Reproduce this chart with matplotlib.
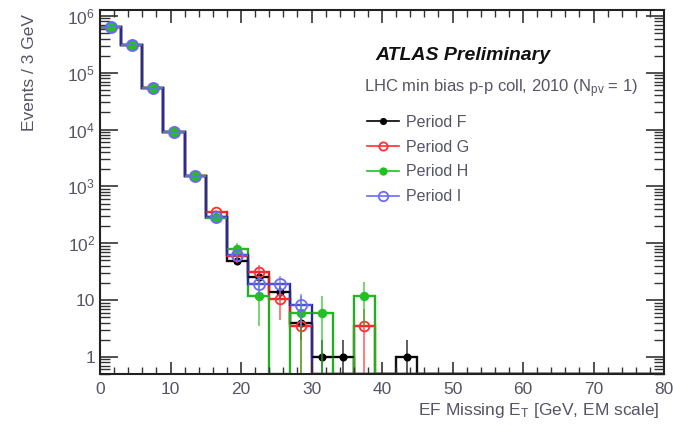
import numpy as np
import matplotlib
matplotlib.use("Agg")
import matplotlib.pyplot as plt
from matplotlib.lines import Line2D
from matplotlib.ticker import FixedLocator, LogLocator, FuncFormatter, NullFormatter

plt.rcParams["font.family"] = ["Liberation Sans", "DejaVu Sans"]
plt.rcParams["mathtext.fontset"] = "custom"
plt.rcParams["mathtext.rm"] = "Liberation Sans"
plt.rcParams["mathtext.it"] = "Liberation Sans:italic"
plt.rcParams["mathtext.bf"] = "Liberation Sans:bold"

# 3 GeV bins of EF missing E_T
bin_edges = np.arange(0, 84, 3)

# Events per bin for each run period (0 = empty bin)
period_f = [6.4e5, 3.1e5, 5.3e4, 8.9e3, 1.5e3, 290, 48, 25, 14, 4, 1, 1, 0, 0, 1,
            0, 0, 0, 0, 0, 0, 0, 0, 0, 0, 0, 0]
period_g = [6.4e5, 3.1e5, 5.3e4, 8.9e3, 1.5e3, 350, 60, 31.5, 10.5, 3.5, 0, 0, 3.5, 0, 0,
            0, 0, 0, 0, 0, 0, 0, 0, 0, 0, 0, 0]
period_h = [6.4e5, 3.1e5, 5.3e4, 8.9e3, 1.5e3, 280, 78, 12, 0, 6, 6, 0, 12, 0, 0,
            0, 0, 0, 0, 0, 0, 0, 0, 0, 0, 0, 0]
period_i = [6.4e5, 3.1e5, 5.3e4, 8.9e3, 1.5e3, 290, 63, 19, 18.9, 8.1, 0, 0, 0, 0, 0,
            0, 0, 0, 0, 0, 0, 0, 0, 0, 0, 0, 0]

# per-event normalisation weight of each period (error = sqrt(N) * w)
weights = [1.0, 3.5, 6.0, 2.7]
labels = ["Period F", "Period G", "Period H", "Period I"]
line_colors = ["#111111", "#e02020", "#22b022", "#2a2a9a"]
marker_colors = ["#000000", "#ff3030", "#22c022", "#6a6aff"]
markers = ["o", "o", "o", "o"]
marker_filled = [True, False, True, False]
marker_sizes = [4.5, 7, 5.5, 8]

y_min, y_max = 0.5, 1.27e6

fig = plt.figure(figsize=(6.73, 4.32), dpi=100)
ax = fig.add_axes([100 / 673, 1 - 374 / 432, 564 / 673, 364 / 432])
ax.set_yscale("log")

centers = 0.5 * (bin_edges[:-1] + bin_edges[1:])
series = [period_f, period_g, period_h, period_i]
for vals, w, lc, mc, mk, filled, ms in zip(series, weights, line_colors, marker_colors,
                                            markers, marker_filled, marker_sizes):
    v = np.asarray(vals, dtype=float)
    # outline histogram; empty bins sit on the axis floor
    drawn = np.where(v > 0, v, y_min)
    ax.stairs(drawn, bin_edges, color=lc, lw=1.7, baseline=None)
    nz = v > 0
    err = np.sqrt(v[nz] * w)
    lo = np.minimum(err, v[nz] - y_min * 1.0001)
    ax.errorbar(centers[nz], v[nz], yerr=[lo, err], xerr=1.5, fmt="none",
                ecolor=mc, elinewidth=1.1, alpha=0.8, capsize=0)
    ax.plot(centers[nz], v[nz], ls="none", marker=mk, ms=ms,
            mfc=mc if filled else "none", mec=mc, mew=1.3)

ax.set_xlim(0, 80)
ax.set_ylim(y_min, y_max)

ax.xaxis.set_major_locator(FixedLocator(np.arange(0, 81, 10)))
ax.xaxis.set_minor_locator(FixedLocator(np.arange(0, 81, 2)))
ax.yaxis.set_major_locator(LogLocator(base=10, numticks=10))
ax.yaxis.set_minor_locator(LogLocator(base=10, subs=np.arange(2, 10), numticks=20))
ax.yaxis.set_minor_formatter(NullFormatter())


def ylab(v, pos):
    if v == 1:
        return "1"
    if v == 10:
        return "10"
    return r"$10^{%d}$" % int(round(np.log10(v)))


ax.yaxis.set_major_formatter(FuncFormatter(ylab))

ax.tick_params(axis="both", which="both", direction="in", top=True, right=True,
               colors="#333333", labelcolor="#555566", labelsize=12.5)
ax.tick_params(axis="y", which="major", length=13, width=1.2)
ax.tick_params(axis="y", which="minor", length=7, width=1.0)
ax.tick_params(axis="x", which="major", length=9, width=1.2)
ax.tick_params(axis="x", which="minor", length=5, width=1.0)
ax.tick_params(axis="x", pad=6)
for s in ax.spines.values():
    s.set_linewidth(1.5)
    s.set_color("#222222")

fig.text(660 / 673, 1 - 410 / 432, r"EF Missing E$_{\rm T}$ [GeV, EM scale]",
         ha="right", va="center", fontsize=12.5, color="#555566")
fig.text(30 / 673, 1 - 14 / 432, "Events / 3 GeV", rotation=90, ha="center",
         va="top", fontsize=12.5, color="#555566")

ax.text(0.488, 0.875, "ATLAS Preliminary", transform=ax.transAxes, fontsize=14,
        fontweight="bold", style="italic", color="#111111", ha="left", va="center")
ax.text(0.468, 0.785, r"LHC min bias p-p coll, 2010 (N$_{\rm pv}$ = 1)",
        transform=ax.transAxes, fontsize=12, color="#555566", ha="left", va="center")

handles = []
for lab, mc, mk, filled, ms in zip(labels, marker_colors, markers, marker_filled,
                                   marker_sizes):
    handles.append(Line2D([], [], color=mc, lw=1.2, marker=mk, ms=ms * 0.85,
                          mfc=mc if filled else "none", mec=mc, mew=1.3, label=lab))
leg = ax.legend(handles=handles, loc="upper left", bbox_to_anchor=(0.448, 0.752),
                frameon=False, fontsize=11.5, handlelength=2.0, handletextpad=0.45,
                labelspacing=0.62, labelcolor="#555566")

fig.savefig("out.png", dpi=100)
